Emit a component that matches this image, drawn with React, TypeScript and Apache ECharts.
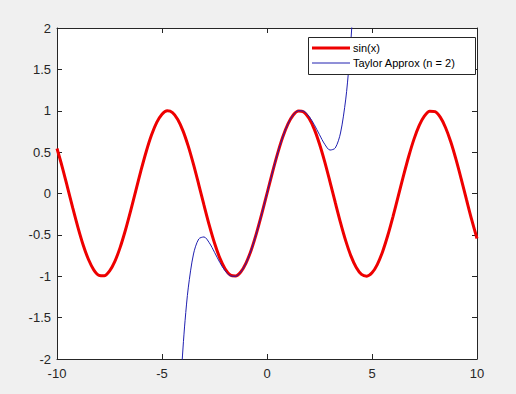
import React, { useEffect, useRef } from "react";
import * as echarts from "echarts";

// sample positions for sin(x)
const sinX: number[] = [
  -10, -9.75, -9.5, -9.25, -9, -8.75, -8.5, -8.25, -8, -7.75, -7.5, -7.25, -7, -6.75, -6.5, -6.25,
  -6, -5.75, -5.5, -5.25, -5, -4.75, -4.5, -4.25, -4, -3.75, -3.5, -3.25, -3, -2.75, -2.5, -2.25,
  -2, -1.75, -1.5, -1.25, -1, -0.75, -0.5, -0.25, 0, 0.25, 0.5, 0.75, 1, 1.25, 1.5, 1.75, 2,
  2.25, 2.5, 2.75, 3, 3.25, 3.5, 3.75, 4, 4.25, 4.5, 4.75, 5, 5.25, 5.5, 5.75, 6, 6.25, 6.5,
  6.75, 7, 7.25, 7.5, 7.75, 8, 8.25, 8.5, 8.75, 9, 9.25, 9.5, 9.75, 10,
];
const sinY: number[] = [
  0.544, 0.32, 0.075, -0.174, -0.412, -0.625, -0.798, -0.922, -0.989, -0.995, -0.938, -0.823,
  -0.657, -0.45, -0.215, 0.033, 0.279, 0.508, 0.706, 0.859, 0.959, 0.999, 0.978, 0.895, 0.757,
  0.572, 0.351, 0.108, -0.141, -0.382, -0.598, -0.778, -0.909, -0.984, -0.997, -0.949, -0.841,
  -0.682, -0.479, -0.247, 0, 0.247, 0.479, 0.682, 0.841, 0.949, 0.997, 0.984, 0.909, 0.778,
  0.598, 0.382, 0.141, -0.108, -0.351, -0.572, -0.757, -0.895, -0.978, -0.999, -0.959, -0.859,
  -0.706, -0.508, -0.279, -0.033, 0.215, 0.45, 0.657, 0.823, 0.938, 0.995, 0.989, 0.922, 0.798,
  0.625, 0.412, 0.174, -0.075, -0.32, -0.544,
];

// Taylor approximation (n = 2) samples
const taylorX: number[] = [
  -4.25, -4.1, -4, -3.9, -3.75, -3.5, -3.25, -3, -2.75, -2.5, -2.25, -2, -1.75, -1.5, -1.25, -1,
  -0.75, -0.5, -0.25, 0, 0.25, 0.5, 0.75, 1, 1.25, 1.5, 1.75, 2, 2.25, 2.5, 2.75, 3, 3.25, 3.5,
  3.75, 3.9, 4, 4.1, 4.25,
];
const taylorY: number[] = [
  -3.011, -2.268, -1.867, -1.532, -1.141, -0.731, -0.55, -0.525, -0.595, -0.71, -0.832, -0.933,
  -0.994, -1.001, -0.95, -0.842, -0.682, -0.479, -0.247, 0, 0.247, 0.479, 0.682, 0.842, 0.95,
  1.001, 0.994, 0.933, 0.832, 0.71, 0.595, 0.525, 0.55, 0.731, 1.141, 1.532, 1.867, 2.268, 3.011,
];

const xTicks = { min: -10, max: 10, interval: 5 };
const yTicks = { min: -2, max: 2, interval: 0.5 };

const seriesNames = ["sin(x)", "Taylor Approx (n = 2)"];
const seriesColors = ["#ee0000", "#2020b0"];
const seriesWidths = [3, 1];

export default function App() {
  const ref = useRef<HTMLDivElement>(null);
  useEffect(() => {
    if (!ref.current) return;
    const chart = echarts.init(ref.current, undefined, { renderer: "svg" });
    const font = "'Liberation Sans', Arial, Helvetica, sans-serif";
    const axisLine = { show: true, onZero: false, lineStyle: { color: "#262626", width: 1 } };
    const tick = { show: true, inside: true, length: 5, lineStyle: { color: "#262626" } };

    // legend box built from graphics
    const legendLeft = 308;
    const legendTop = 37;
    const legendW = 167;
    const rowH = 15;
    const legendGraphics: any[] = [
      {
        type: "rect",
        shape: { x: legendLeft + 0.5, y: legendTop + 0.5, width: legendW, height: 37 },
        style: { fill: "#ffffff", stroke: "#262626", lineWidth: 1 },
        z: 100,
      },
    ];
    seriesNames.forEach((name, i) => {
      const cy = legendTop + 11 + i * rowH;
      legendGraphics.push({
        type: "line",
        shape: { x1: legendLeft + 4, y1: cy, x2: legendLeft + 42, y2: cy },
        style: { stroke: seriesColors[i], lineWidth: seriesWidths[i] },
        z: 101,
      });
      legendGraphics.push({
        type: "text",
        x: legendLeft + 45,
        y: cy,
        style: {
          text: name,
          fill: "#000000",
          font: `11px ${font}`,
          textVerticalAlign: "middle",
          verticalAlign: "middle",
        },
        z: 101,
      });
    });

    chart.setOption({
      animation: false,
      backgroundColor: "#f0f0f0",
      grid: { left: 57, right: 39, top: 28, bottom: 35, show: true, backgroundColor: "#ffffff", borderWidth: 0 },
      xAxis: [
        {
          type: "value",
          ...xTicks,
          position: "bottom",
          axisLine,
          axisTick: tick,
          splitLine: { show: false },
          axisLabel: { color: "#262626", fontSize: 13, fontFamily: font, margin: 8 },
        },
        {
          type: "value",
          ...xTicks,
          position: "top",
          axisLine,
          axisTick: tick,
          splitLine: { show: false },
          axisLabel: { show: false },
        },
      ],
      yAxis: [
        {
          type: "value",
          ...yTicks,
          position: "left",
          axisLine,
          axisTick: tick,
          splitLine: { show: false },
          axisLabel: { color: "#262626", fontSize: 13, fontFamily: font, margin: 6 },
        },
        {
          type: "value",
          ...yTicks,
          position: "right",
          axisLine,
          axisTick: tick,
          splitLine: { show: false },
          axisLabel: { show: false },
        },
      ],
      graphic: legendGraphics,
      series: [
        {
          name: seriesNames[0],
          type: "line",
          data: sinX.map((x, i) => [x, sinY[i]]),
          showSymbol: false,
          symbol: "none",
          smooth: 0.3,
          lineStyle: { color: seriesColors[0], width: seriesWidths[0] },
          itemStyle: { color: seriesColors[0] },
          clip: true,
        },
        {
          name: seriesNames[1],
          type: "line",
          data: taylorX.map((x, i) => [x, taylorY[i]]),
          showSymbol: false,
          symbol: "none",
          smooth: 0.3,
          lineStyle: { color: seriesColors[1], width: seriesWidths[1] },
          itemStyle: { color: seriesColors[1] },
          clip: true,
        },
      ],
    });
    return () => chart.dispose();
  }, []);
  return <div ref={ref} style={{ width: 516, height: 394, position: "absolute", left: 0, top: 0 }} />;
}
